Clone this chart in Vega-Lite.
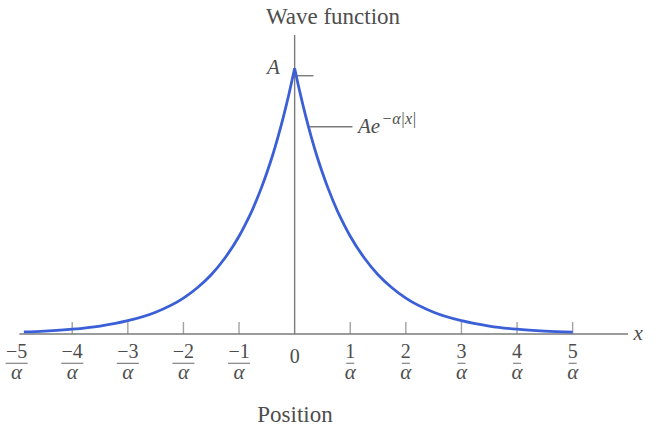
{
  "$schema": "https://vega.github.io/schema/vega-lite/v6.json",
  "width": 656,
  "height": 427,
  "autosize": {"type": "none"},
  "padding": 0,
  "background": "white",
  "config": {"view": {"stroke": null}},
  "datasets": {
    "curve": [
      {"u": -4.87, "v": 0.0077, "side": "left"},
      {"u": -4.5, "v": 0.011, "side": "left"},
      {"u": -4.0, "v": 0.018, "side": "left"},
      {"u": -3.5, "v": 0.030, "side": "left"},
      {"u": -3.0, "v": 0.050, "side": "left"},
      {"u": -2.5, "v": 0.082, "side": "left"},
      {"u": -2.0, "v": 0.135, "side": "left"},
      {"u": -1.75, "v": 0.174, "side": "left"},
      {"u": -1.5, "v": 0.223, "side": "left"},
      {"u": -1.25, "v": 0.287, "side": "left"},
      {"u": -1.0, "v": 0.368, "side": "left"},
      {"u": -0.9, "v": 0.407, "side": "left"},
      {"u": -0.8, "v": 0.449, "side": "left"},
      {"u": -0.7, "v": 0.497, "side": "left"},
      {"u": -0.6, "v": 0.549, "side": "left"},
      {"u": -0.5, "v": 0.607, "side": "left"},
      {"u": -0.4, "v": 0.670, "side": "left"},
      {"u": -0.3, "v": 0.741, "side": "left"},
      {"u": -0.2, "v": 0.819, "side": "left"},
      {"u": -0.1, "v": 0.905, "side": "left"},
      {"u": 0.0, "v": 1.0, "side": "left"},
      {"u": 0.0, "v": 1.0, "side": "right"},
      {"u": 0.1, "v": 0.905, "side": "right"},
      {"u": 0.2, "v": 0.819, "side": "right"},
      {"u": 0.3, "v": 0.741, "side": "right"},
      {"u": 0.4, "v": 0.670, "side": "right"},
      {"u": 0.5, "v": 0.607, "side": "right"},
      {"u": 0.6, "v": 0.549, "side": "right"},
      {"u": 0.7, "v": 0.497, "side": "right"},
      {"u": 0.8, "v": 0.449, "side": "right"},
      {"u": 0.9, "v": 0.407, "side": "right"},
      {"u": 1.0, "v": 0.368, "side": "right"},
      {"u": 1.25, "v": 0.287, "side": "right"},
      {"u": 1.5, "v": 0.223, "side": "right"},
      {"u": 1.75, "v": 0.174, "side": "right"},
      {"u": 2.0, "v": 0.135, "side": "right"},
      {"u": 2.5, "v": 0.082, "side": "right"},
      {"u": 3.0, "v": 0.050, "side": "right"},
      {"u": 3.5, "v": 0.030, "side": "right"},
      {"u": 4.0, "v": 0.018, "side": "right"},
      {"u": 4.5, "v": 0.011, "side": "right"},
      {"u": 5.0, "v": 0.0067, "side": "right"}
    ],
    "ticks": [
      {"u": -5, "label": "−5"},
      {"u": -4, "label": "−4"},
      {"u": -3, "label": "−3"},
      {"u": -2, "label": "−2"},
      {"u": -1, "label": "−1"},
      {"u": 1, "label": "1"},
      {"u": 2, "label": "2"},
      {"u": 3, "label": "3"},
      {"u": 4, "label": "4"},
      {"u": 5, "label": "5"}
    ],
    "notes": [
      {"u": 0.69, "v": 1.194, "text": "Wave function", "kind": "title"},
      {"u": 0.007, "v": -0.305, "text": "Position", "kind": "title"},
      {"u": 0, "v": -0.0854, "text": "0", "kind": "origin"},
      {"u": -0.38, "v": 1.0, "text": "A", "kind": "italic"},
      {"u": 6.18, "v": 0.0, "text": "x", "kind": "italic"}
    ],
    "lines": [
      {"u": -4.95, "u2": 5.996, "v": 0, "v2": 0},
      {"u": 0, "u2": 0, "v": 0, "v2": 1.125},
      {"u": 0, "u2": 0.34, "v": 0.972, "v2": 0.972},
      {"u": 0.27, "u2": 1.04, "v": 0.78, "v2": 0.78}
    ],
    "formula": [
      {"u": 1.14, "v": 0.779, "text": "Ae", "part": "base"},
      {"u": 1.56, "v": 0.808, "text": "−α|x|", "part": "exp"}
    ]
  },
  "layer": [
    {
      "data": {"name": "lines"},
      "mark": {"type": "rule", "color": "#7a7a7a", "strokeWidth": 1.4},
      "encoding": {
        "x": {"field": "u", "type": "quantitative", "scale": {"domain": [-5.299, 6.499], "nice": false, "zero": false}, "axis": null},
        "x2": {"field": "u2"},
        "y": {"field": "v", "type": "quantitative", "scale": {"domain": [-0.35, 1.257], "nice": false, "zero": false}, "axis": null},
        "y2": {"field": "v2"}
      }
    },
    {
      "data": {"name": "ticks"},
      "transform": [{"filter": "datum.u > -5"}],
      "mark": {"type": "tick", "orient": "vertical", "size": 12, "thickness": 1.4, "color": "#7a7a7a", "yOffset": -6},
      "encoding": {
        "x": {"field": "u", "type": "quantitative", "scale": {"domain": [-5.299, 6.499], "nice": false, "zero": false}, "axis": null},
        "y": {"datum": 0, "type": "quantitative", "scale": {"domain": [-0.35, 1.257], "nice": false, "zero": false}, "axis": null}
      }
    },
    {
      "data": {"name": "curve"},
      "mark": {"type": "line", "interpolate": "monotone", "color": "#3a5fd6", "strokeWidth": 2.8},
      "encoding": {
        "x": {"field": "u", "type": "quantitative", "scale": {"domain": [-5.299, 6.499], "nice": false, "zero": false}, "axis": null},
        "y": {"field": "v", "type": "quantitative", "scale": {"domain": [-0.35, 1.257], "nice": false, "zero": false}, "axis": null},
        "detail": {"field": "side"}
      }
    },
    {
      "data": {"name": "ticks"},
      "mark": {"type": "text", "font": "Liberation Serif", "fontSize": 20, "color": "#4d4d4d", "baseline": "middle", "align": "center", "yOffset": 17.5},
      "encoding": {
        "x": {"field": "u", "type": "quantitative", "scale": {"domain": [-5.299, 6.499], "nice": false, "zero": false}, "axis": null},
        "y": {"datum": 0, "type": "quantitative", "scale": {"domain": [-0.35, 1.257], "nice": false, "zero": false}, "axis": null},
        "text": {"field": "label"}
      }
    },
    {
      "data": {"name": "ticks"},
      "transform": [{"filter": "datum.u < 0"}],
      "mark": {"type": "tick", "orient": "horizontal", "size": 22, "thickness": 1.2, "color": "#4d4d4d", "yOffset": 29.3},
      "encoding": {
        "x": {"field": "u", "type": "quantitative", "scale": {"domain": [-5.299, 6.499], "nice": false, "zero": false}, "axis": null},
        "y": {"datum": 0, "type": "quantitative", "scale": {"domain": [-0.35, 1.257], "nice": false, "zero": false}, "axis": null}
      }
    },
    {
      "data": {"name": "ticks"},
      "transform": [{"filter": "datum.u > 0"}],
      "mark": {"type": "tick", "orient": "horizontal", "size": 8, "thickness": 1.2, "color": "#4d4d4d", "yOffset": 29.3},
      "encoding": {
        "x": {"field": "u", "type": "quantitative", "scale": {"domain": [-5.299, 6.499], "nice": false, "zero": false}, "axis": null},
        "y": {"datum": 0, "type": "quantitative", "scale": {"domain": [-0.35, 1.257], "nice": false, "zero": false}, "axis": null}
      }
    },
    {
      "data": {"name": "ticks"},
      "mark": {"type": "text", "font": "Liberation Serif", "fontStyle": "italic", "fontSize": 21, "color": "#4d4d4d", "baseline": "middle", "align": "center", "yOffset": 38.5},
      "encoding": {
        "x": {"field": "u", "type": "quantitative", "scale": {"domain": [-5.299, 6.499], "nice": false, "zero": false}, "axis": null},
        "y": {"datum": 0, "type": "quantitative", "scale": {"domain": [-0.35, 1.257], "nice": false, "zero": false}, "axis": null},
        "text": {"value": "α"}
      }
    },
    {
      "data": {"name": "notes"},
      "transform": [{"filter": "datum.kind === 'title'"}],
      "mark": {"type": "text", "font": "Liberation Serif", "fontSize": 23, "color": "#4d4d4d", "baseline": "middle", "align": "center"},
      "encoding": {
        "x": {"field": "u", "type": "quantitative", "scale": {"domain": [-5.299, 6.499], "nice": false, "zero": false}, "axis": null},
        "y": {"field": "v", "type": "quantitative", "scale": {"domain": [-0.35, 1.257], "nice": false, "zero": false}, "axis": null},
        "text": {"field": "text"}
      }
    },
    {
      "data": {"name": "notes"},
      "transform": [{"filter": "datum.kind === 'origin'"}],
      "mark": {"type": "text", "font": "Liberation Serif", "fontSize": 20, "color": "#4d4d4d", "baseline": "middle", "align": "center"},
      "encoding": {
        "x": {"field": "u", "type": "quantitative", "scale": {"domain": [-5.299, 6.499], "nice": false, "zero": false}, "axis": null},
        "y": {"field": "v", "type": "quantitative", "scale": {"domain": [-0.35, 1.257], "nice": false, "zero": false}, "axis": null},
        "text": {"field": "text"}
      }
    },
    {
      "data": {"name": "notes"},
      "transform": [{"filter": "datum.kind === 'italic'"}],
      "mark": {"type": "text", "font": "Liberation Serif", "fontStyle": "italic", "fontSize": 21, "color": "#4d4d4d", "baseline": "middle", "align": "center"},
      "encoding": {
        "x": {"field": "u", "type": "quantitative", "scale": {"domain": [-5.299, 6.499], "nice": false, "zero": false}, "axis": null},
        "y": {"field": "v", "type": "quantitative", "scale": {"domain": [-0.35, 1.257], "nice": false, "zero": false}, "axis": null},
        "text": {"field": "text"}
      }
    },
    {
      "data": {"name": "formula"},
      "transform": [{"filter": "datum.part === 'base'"}],
      "mark": {"type": "text", "font": "Liberation Serif", "fontStyle": "italic", "fontSize": 21, "color": "#4d4d4d", "baseline": "middle", "align": "left"},
      "encoding": {
        "x": {"field": "u", "type": "quantitative", "scale": {"domain": [-5.299, 6.499], "nice": false, "zero": false}, "axis": null},
        "y": {"field": "v", "type": "quantitative", "scale": {"domain": [-0.35, 1.257], "nice": false, "zero": false}, "axis": null},
        "text": {"field": "text"}
      }
    },
    {
      "data": {"name": "formula"},
      "transform": [{"filter": "datum.part === 'exp'"}],
      "mark": {"type": "text", "font": "Liberation Serif", "fontStyle": "italic", "fontSize": 16, "color": "#4d4d4d", "baseline": "middle", "align": "left"},
      "encoding": {
        "x": {"field": "u", "type": "quantitative", "scale": {"domain": [-5.299, 6.499], "nice": false, "zero": false}, "axis": null},
        "y": {"field": "v", "type": "quantitative", "scale": {"domain": [-0.35, 1.257], "nice": false, "zero": false}, "axis": null},
        "text": {"field": "text"}
      }
    }
  ]
}
